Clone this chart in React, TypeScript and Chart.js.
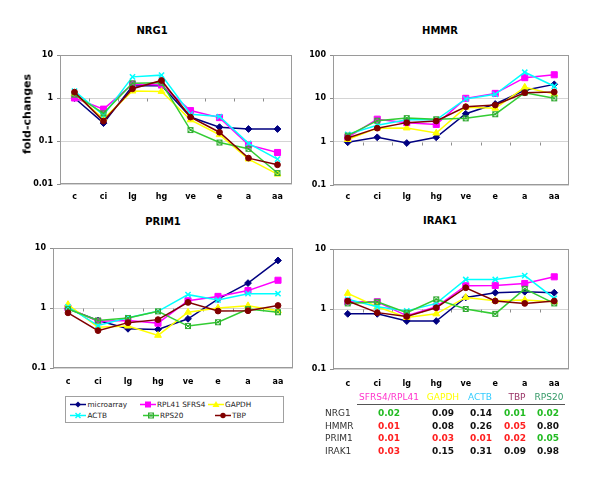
import React, { useEffect, useRef } from "react";
import { Chart, registerables } from "chart.js";

Chart.register(...registerables);

// ---------- data ----------
const categories = ["c", "ci", "lg", "hg", "ve", "e", "a", "aa"];
const seriesNames = ["microarray", "RPL41 SFRS4", "GAPDH", "ACTB", "RPS20", "TBP"];

const nrg1Microarray = [1.0, 0.26, 1.9, 1.95, 0.36, 0.21, 0.19, 0.19];
const nrg1Rpl41 = [1.0, 0.55, 2.1, 2.0, 0.51, 0.35, 0.081, 0.054];
const nrg1Gapdh = [1.26, 0.33, 1.45, 1.42, 0.31, 0.14, 0.038, 0.017];
const nrg1Actb = [1.45, 0.4, 3.1, 3.4, 0.42, 0.37, 0.088, 0.038];
const nrg1Rps20 = [1.2, 0.44, 2.2, 2.26, 0.18, 0.092, 0.066, 0.018];
const nrg1Tbp = [1.37, 0.29, 1.64, 2.56, 0.36, 0.16, 0.04, 0.028];

const hmmrMicroarray = [0.97, 1.26, 0.93, 1.26, 4.4, 7.4, 15.3, 21];
const hmmrRpl41 = [1.25, 3.3, 2.75, 2.5, 10, 13, 30, 35];
const hmmrGapdh = [1.12, 2.05, 2.07, 1.58, 6.2, 5.9, 18, 12.5];
const hmmrActb = [1.48, 2.4, 3.2, 3.2, 9.7, 12.4, 40, 19];
const hmmrRps20 = [1.38, 3.05, 3.5, 3.3, 3.45, 4.3, 13.5, 10];
const hmmrTbp = [1.22, 2.05, 2.75, 3.0, 6.4, 7.0, 13.5, 14];

const prim1Microarray = [0.97, 0.62, 0.45, 0.44, 0.66, 1.41, 2.6, 6.2];
const prim1Rpl41 = [1.0, 0.6, 0.62, 0.56, 1.32, 1.56, 1.95, 2.9];
const prim1Gapdh = [1.14, 0.48, 0.5, 0.35, 0.85, 1.0, 1.09, 0.9];
const prim1Actb = [1.04, 0.51, 0.69, 0.88, 1.67, 1.36, 1.73, 1.73];
const prim1Rps20 = [0.96, 0.62, 0.68, 0.88, 0.5, 0.58, 0.96, 0.85];
const prim1Tbp = [0.83, 0.42, 0.57, 0.64, 1.24, 0.89, 0.9, 1.1];

const irak1Microarray = [0.83, 0.83, 0.63, 0.63, 1.56, 1.87, 1.94, 1.87];
const irak1Rpl41 = [1.32, 1.32, 0.77, 1.09, 2.44, 2.47, 2.66, 3.44];
const irak1Gapdh = [1.82, 1.09, 0.72, 0.83, 1.56, 1.37, 1.41, 1.32];
const irak1Actb = [1.45, 1.09, 0.93, 1.24, 3.1, 3.1, 3.6, 1.5];
const irak1Rps20 = [1.24, 1.32, 0.87, 1.45, 1.0, 0.83, 2.17, 1.24];
const irak1Tbp = [1.36, 0.87, 0.75, 1.05, 2.26, 1.36, 1.24, 1.36];

const nrg1Ticks = [0.01, 0.1, 1, 10];
const hmmrTicks = [0.1, 1, 10, 100];
const prim1Ticks = [0.1, 1, 10];
const irak1Ticks = [0.1, 1, 10];

const tableHeaders = ["SFRS4/RPL41", "GAPDH", "ACTB", "TBP", "RPS20"];
const tableGenes = ["NRG1", "HMMR", "PRIM1", "IRAK1"];
const nrg1PValues = ["0.02", "0.09", "0.14", "0.01", "0.02"];
const hmmrPValues = ["0.01", "0.08", "0.26", "0.05", "0.80"];
const prim1PValues = ["0.01", "0.03", "0.01", "0.02", "0.05"];
const irak1PValues = ["0.03", "0.15", "0.31", "0.09", "0.98"];
const nrg1Marks = ["g", "k", "k", "g", "g"];
const hmmrMarks = ["r", "k", "k", "r", "k"];
const prim1Marks = ["r", "r", "r", "r", "g"];
const irak1Marks = ["r", "k", "k", "k", "k"];

// ---------- styles / layout ----------
const FONT = "'DejaVu Sans', Verdana, sans-serif";

const SERIES_STYLE = [
  { color: "#000080", point: "rectRot", radius: 3.4, bw: 1 },
  { color: "#FF00FF", point: "rect", radius: 4.3, bw: 1 },
  { color: "#FFFF00", point: "triangle", radius: 3.9, bw: 1 },
  { color: "#00FFFF", point: "crossRot", radius: 3.7, bw: 1.5 },
  { color: "#33CC33", point: "custom", radius: 3.5, bw: 1 },
  { color: "#800000", point: "circle", radius: 2.9, bw: 1 },
];

const HEADER_COLORS = ["#FF33CC", "#FFFF00", "#33CCFF", "#993366", "#339966"];
const MARK_COLORS: Record<string, string> = { g: "#22BB22", r: "#FF2020", k: "#111111" };

const PANELS = [
  { title: "NRG1", canvas: [0, 40, 300, 170], area: [60, 55, 292, 184], labelPad: 8, titlePos: [152, 30] },
  { title: "HMMR", canvas: [300, 40, 300, 170], area: [333, 55, 569, 185], labelPad: 7, titlePos: [440, 30] },
  { title: "PRIM1", canvas: [0, 233, 300, 160], area: [53, 248, 293, 368], labelPad: 9, titlePos: [163, 221] },
  { title: "IRAK1", canvas: [300, 233, 300, 160], area: [333, 249, 569, 369], labelPad: 10, titlePos: [440, 220] },
];

const PANEL_DATA = [
  { series: [nrg1Microarray, nrg1Rpl41, nrg1Gapdh, nrg1Actb, nrg1Rps20, nrg1Tbp], ticks: nrg1Ticks },
  { series: [hmmrMicroarray, hmmrRpl41, hmmrGapdh, hmmrActb, hmmrRps20, hmmrTbp], ticks: hmmrTicks },
  { series: [prim1Microarray, prim1Rpl41, prim1Gapdh, prim1Actb, prim1Rps20, prim1Tbp], ticks: prim1Ticks },
  { series: [irak1Microarray, irak1Rpl41, irak1Gapdh, irak1Actb, irak1Rps20, irak1Tbp], ticks: irak1Ticks },
];

const TABLE_ROWS = [
  { values: nrg1PValues, marks: nrg1Marks },
  { values: hmmrPValues, marks: hmmrMarks },
  { values: prim1PValues, marks: prim1Marks },
  { values: irak1PValues, marks: irak1Marks },
];

const framePlugin = {
  id: "excelFrame",
  beforeDatasetsDraw(chart: any) {
    const { ctx, chartArea: a, scales } = chart;
    const xs = scales.x;
    const ys = scales.y;
    ctx.save();
    ctx.strokeStyle = "#9a9a9a";
    ctx.lineWidth = 1;
    const L = Math.round(a.left) + 0.5;
    const T = Math.round(a.top) + 0.5;
    const R = Math.round(a.right) - 0.5;
    const B = Math.round(a.bottom) - 0.5;
    ctx.strokeRect(L, T, R - L, B - T);
    const y1 = Math.round(ys.getPixelForValue(1)) + 0.5;
    ctx.strokeStyle = "#8c8c8c";
    ctx.beginPath();
    for (let i = 1; i < categories.length; i++) {
      const px = Math.round((xs.getPixelForValue(i - 1) + xs.getPixelForValue(i)) / 2) + 0.5;
      ctx.moveTo(px, y1);
      ctx.lineTo(px, y1 + 3);
    }
    ctx.stroke();
    ctx.restore();
  },
};

function makeRps20Marker(color: string) {
  const c = document.createElement("canvas");
  c.width = 8;
  c.height = 8;
  const g = c.getContext("2d")!;
  g.strokeStyle = color;
  g.lineWidth = 1;
  g.strokeRect(1.5, 1.5, 5, 5);
  g.beginPath();
  g.moveTo(1.5, 1.5);
  g.lineTo(6.5, 6.5);
  g.moveTo(6.5, 1.5);
  g.lineTo(1.5, 6.5);
  g.stroke();
  return c;
}

const LEGEND_LINE = 16;

function LegendMarker({ idx, left, top }: { idx: number; left: number; top: number }) {
  const s = SERIES_STYLE[idx];
  const cx = LEGEND_LINE / 2;
  const cy = 4.5;
  let shape: any = null;
  if (s.point === "rectRot") shape = <polygon points={`${cx},${cy - 3} ${cx + 3},${cy} ${cx},${cy + 3} ${cx - 3},${cy}`} fill={s.color} />;
  else if (s.point === "rect") shape = <rect x={cx - 3} y={cy - 3} width={6} height={6} fill={s.color} />;
  else if (s.point === "triangle") shape = <polygon points={`${cx},${cy - 3.5} ${cx + 3.5},${cy + 2.5} ${cx - 3.5},${cy + 2.5}`} fill={s.color} />;
  else if (s.point === "crossRot")
    shape = (
      <g stroke={s.color} strokeWidth={1.5}>
        <line x1={cx - 2.5} y1={cy - 2.5} x2={cx + 2.5} y2={cy + 2.5} />
        <line x1={cx + 2.5} y1={cy - 2.5} x2={cx - 2.5} y2={cy + 2.5} />
      </g>
    );
  else if (s.point === "custom")
    shape = (
      <g stroke="#33AA33" strokeWidth={1} fill="none">
        <rect x={cx - 2.5} y={cy - 2.5} width={5} height={5} />
        <line x1={cx - 2.5} y1={cy - 2.5} x2={cx + 2.5} y2={cy + 2.5} />
        <line x1={cx + 2.5} y1={cy - 2.5} x2={cx - 2.5} y2={cy + 2.5} />
      </g>
    );
  else shape = <circle cx={cx} cy={cy} r={2.7} fill={s.color} />;
  return (
    <svg width={LEGEND_LINE} height={9} style={{ position: "absolute", left, top }}>
      <line x1={0} y1={cy} x2={LEGEND_LINE} y2={cy} stroke={s.color} strokeWidth={1.5} />
      {shape}
    </svg>
  );
}

const LEGEND_ITEMS = [
  { idx: 0, x: 87.5, y: 404 },
  { idx: 1, x: 157, y: 404 },
  { idx: 2, x: 225, y: 404 },
  { idx: 3, x: 87.5, y: 415 },
  { idx: 4, x: 160, y: 415 },
  { idx: 5, x: 232, y: 415 },
];

const COL_X = [389, 443, 481, 515, 548];
const HEADER_X = [389, 443, 480, 517, 549];
const ROW_Y = [413, 425.5, 438, 451];

export default function App() {
  const refs = [useRef<HTMLCanvasElement>(null), useRef<HTMLCanvasElement>(null), useRef<HTMLCanvasElement>(null), useRef<HTMLCanvasElement>(null)];

  useEffect(() => {
    const rpsMarker = makeRps20Marker("#33AA33");
    const charts = PANELS.map((p, pi) => {
      const [cx, cy, cw, ch] = p.canvas;
      const [l, t, r, b] = p.area;
      const pd = PANEL_DATA[pi];
      const yMin = pd.ticks[0];
      const yMax = pd.ticks[pd.ticks.length - 1];
      return new Chart(refs[pi].current!, {
        type: "line",
        data: {
          labels: categories,
          datasets: pd.series.map((vals, i) => {
            const s = SERIES_STYLE[i];
            return {
              label: seriesNames[i],
              data: vals,
              borderColor: s.color,
              backgroundColor: s.color,
              pointBackgroundColor: s.color,
              pointBorderColor: s.color,
              pointStyle: (s.point === "custom" ? rpsMarker : s.point) as any,
              pointRadius: s.radius,
              pointBorderWidth: s.bw,
              borderWidth: 1.5,
              tension: 0,
              fill: false,
              order: pd.series.length - i,
            };
          }),
        },
        options: {
          responsive: false,
          maintainAspectRatio: false,
          animation: false,
          events: [],
          layout: { padding: { left: 0, top: t - cy, right: cx + cw - r, bottom: 0 } },
          plugins: { legend: { display: false }, title: { display: false }, tooltip: { enabled: false } },
          scales: {
            x: {
              type: "category",
              offset: true,
              grid: { display: false, drawTicks: false },
              border: { display: false },
              ticks: {
                color: "#000",
                font: { family: FONT, size: 8, weight: "bold" },
                padding: p.labelPad,
                autoSkip: false,
                maxRotation: 0,
              },
              afterFit: (s: any) => {
                s.height = cy + ch - b;
              },
            },
            y: {
              type: "logarithmic",
              min: yMin,
              max: yMax,
              afterBuildTicks: (s: any) => {
                s.ticks = pd.ticks.map((v) => ({ value: v }));
              },
              ticks: {
                color: "#000",
                font: { family: FONT, size: 8, weight: "bold" },
                padding: 4,
                autoSkip: false,
                callback: (v: any) => String(v),
              },
              grid: { color: "#d4d4d4", tickColor: "#8c8c8c", tickLength: 3, drawTicks: true },
              border: { display: true, color: "#9a9a9a" },
              afterFit: (s: any) => {
                s.width = l - cx;
              },
            },
          },
        } as any,
        plugins: [framePlugin],
      });
    });
    return () => charts.forEach((c) => c.destroy());
  }, []);

  return (
    <div style={{ position: "absolute", left: 0, top: 0, width: 600, height: 479, background: "#fff", fontFamily: FONT, color: "#000", overflow: "hidden" }}>
      {PANELS.map((p, i) => (
        <React.Fragment key={p.title}>
          <div
            style={{
              position: "absolute",
              left: p.titlePos[0],
              top: p.titlePos[1],
              transform: "translate(-50%, -50%)",
              fontSize: 10,
              fontWeight: "bold",
              whiteSpace: "nowrap",
            }}
          >
            {p.title}
          </div>
          <canvas
            ref={refs[i]}
            width={p.canvas[2]}
            height={p.canvas[3]}
            style={{ position: "absolute", left: p.canvas[0], top: p.canvas[1], width: p.canvas[2], height: p.canvas[3] }}
          />
        </React.Fragment>
      ))}
      <div
        style={{
          position: "absolute",
          left: 27,
          top: 114,
          transform: "translate(-50%, -50%) rotate(-90deg)",
          fontSize: 11,
          fontWeight: "bold",
          whiteSpace: "nowrap",
        }}
      >
        fold-changes
      </div>

      {/* legend */}
      <div style={{ position: "absolute", left: 65, top: 396, width: 217, height: 25, border: "1px solid #a0a0a0", boxSizing: "content-box" }} />
      {LEGEND_ITEMS.map((it) => (
        <React.Fragment key={it.idx}>
          <LegendMarker idx={it.idx} left={it.x - LEGEND_LINE - 1.5} top={it.y - 4.5} />
          <div style={{ position: "absolute", left: it.x, top: it.y, transform: "translateY(-50%)", fontSize: 7.3, color: "#222", whiteSpace: "nowrap" }}>
            {seriesNames[it.idx]}
          </div>
        </React.Fragment>
      ))}

      {/* table */}
      {tableHeaders.map((h, i) => (
        <div
          key={h}
          style={{ position: "absolute", left: HEADER_X[i], top: 397, transform: "translate(-50%, -50%)", fontSize: 9, color: HEADER_COLORS[i], whiteSpace: "nowrap" }}
        >
          {h}
        </div>
      ))}
      <div style={{ position: "absolute", left: 357, top: 403.5, width: 208, height: 0, borderTop: "1.5px solid #555" }} />
      {TABLE_ROWS.map((row, ri) => (
        <React.Fragment key={tableGenes[ri]}>
          <div style={{ position: "absolute", left: 325, top: ROW_Y[ri], transform: "translateY(-50%)", fontSize: 9, color: "#333", whiteSpace: "nowrap" }}>
            {tableGenes[ri]}
          </div>
          {row.values.map((v, ci) => (
            <div
              key={ci}
              style={{
                position: "absolute",
                left: COL_X[ci],
                top: ROW_Y[ri],
                transform: "translate(-50%, -50%)",
                fontSize: 9,
                fontWeight: "bold",
                color: MARK_COLORS[row.marks[ci]],
                whiteSpace: "nowrap",
              }}
            >
              {v}
            </div>
          ))}
        </React.Fragment>
      ))}
    </div>
  );
}
